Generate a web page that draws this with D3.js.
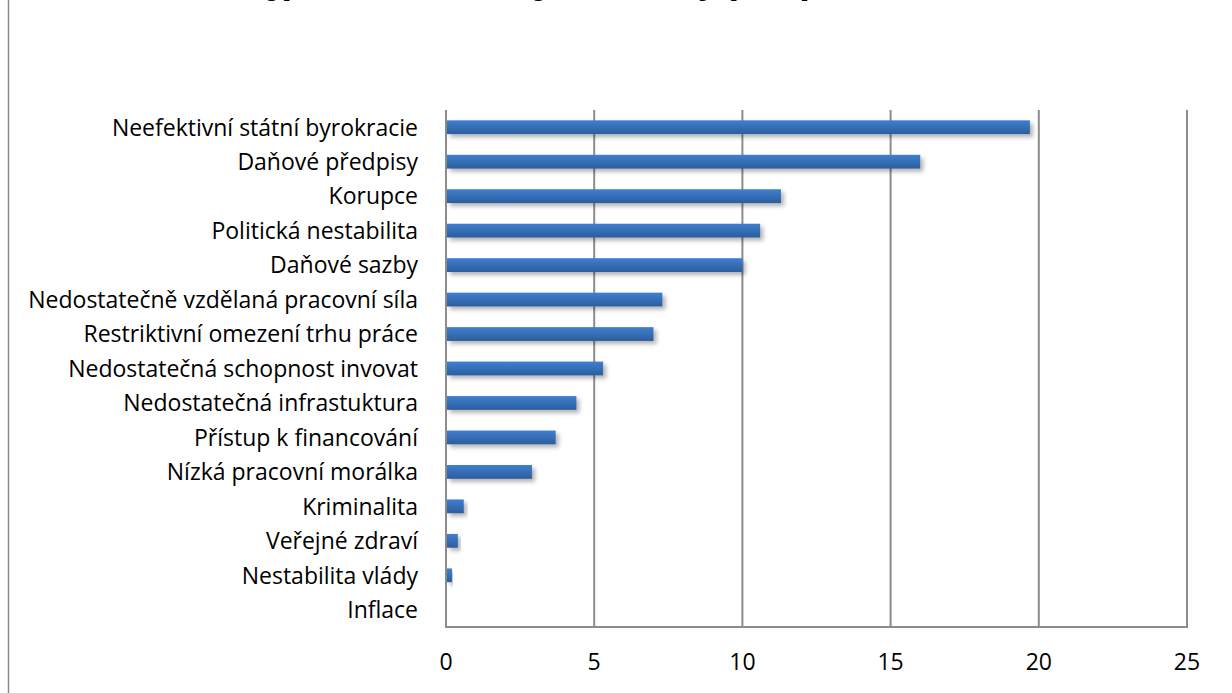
<!DOCTYPE html>
<html>
<head>
<meta charset="utf-8">
<script src="https://cdn.jsdelivr.net/npm/d3@7"></script>
<style>
  body { margin: 0; background: #fff; }
  svg { display: block; font-family: "Open Sans", Lato, sans-serif; }
</style>
</head>
<body>
<svg width="1232" height="693"></svg>
<script>
var categories = [
  "Neefektivní státní byrokracie",
  "Daňové předpisy",
  "Korupce",
  "Politická nestabilita",
  "Daňové sazby",
  "Nedostatečně vzdělaná pracovní síla",
  "Restriktivní omezení trhu práce",
  "Nedostatečná schopnost invovat",
  "Nedostatečná infrastuktura",
  "Přístup k financování",
  "Nízká pracovní morálka",
  "Kriminalita",
  "Veřejné zdraví",
  "Nestabilita vlády",
  "Inflace"
];
var values = [19.7, 16.0, 11.3, 10.6, 10.0, 7.3, 7.0, 5.3, 4.4, 3.7, 2.9, 0.6, 0.4, 0.2, 0];
var xTicks = [0, 5, 10, 15, 20, 25];
var title = "Nejproblematičtější faktory pro podnikání";

var svg = d3.select("svg"),
    width = +svg.attr("width"),
    height = +svg.attr("height");

var plotLeft = 446, plotRight = 1187, plotTop = 110, plotBottom = 627;

var x = d3.scaleLinear().domain([0, 25]).range([plotLeft, plotRight]);
var y = d3.scaleBand().domain(categories).range([plotTop, plotBottom]).paddingInner(0.6).paddingOuter(0.3);

var defs = svg.append("defs");
var grad = defs.append("linearGradient")
    .attr("id", "barGrad")
    .attr("x1", 0).attr("y1", 0).attr("x2", 0).attr("y2", 1);
grad.append("stop").attr("offset", "0%").attr("stop-color", "#3f7fd0");
grad.append("stop").attr("offset", "100%").attr("stop-color", "#2c5d9c");

var shadow = defs.append("filter").attr("id", "shadow")
    .attr("x", "-10%").attr("y", "-50%").attr("width", "130%").attr("height", "250%");
shadow.append("feDropShadow")
    .attr("dx", 3).attr("dy", 3).attr("stdDeviation", 2.2)
    .attr("flood-color", "#000").attr("flood-opacity", 0.3);

// outer frame, only left edge is in view
svg.append("line")
    .attr("x1", 8.5).attr("x2", 8.5).attr("y1", 0).attr("y2", height)
    .attr("stroke", "#8a8a8a").attr("stroke-width", 1.5);

// title, mostly cut off at the top
svg.append("text")
    .attr("x", 600).attr("y", -8)
    .attr("text-anchor", "middle")
    .attr("font-size", 36).attr("font-weight", "bold")
    .text(title);

// gridlines
svg.append("g")
  .selectAll("line")
  .data(xTicks)
  .enter().append("line")
    .attr("x1", function(d) { return x(d); })
    .attr("x2", function(d) { return x(d); })
    .attr("y1", plotTop).attr("y2", plotBottom)
    .attr("stroke", "#8c8c8c").attr("stroke-width", 2);

// bottom axis line
svg.append("line")
    .attr("x1", x(0) - 1).attr("x2", x(25) + 1)
    .attr("y1", plotBottom).attr("y2", plotBottom)
    .attr("stroke", "#8c8c8c").attr("stroke-width", 2);

// bars
svg.append("g")
  .selectAll("rect")
  .data(values)
  .enter().append("rect")
    .attr("x", x(0) + 1)
    .attr("y", function(d, i) { return y(categories[i]); })
    .attr("width", function(d) { return Math.max(0, x(d) - x(0) - 1); })
    .attr("height", y.bandwidth())
    .attr("fill", "url(#barGrad)")
    .attr("filter", "url(#shadow)");

// category labels
svg.append("g")
  .selectAll("text")
  .data(categories)
  .enter().append("text")
    .attr("x", 418)
    .attr("y", function(d) { return y(d) + y.bandwidth() / 2; })
    .attr("dy", "0.36em")
    .attr("text-anchor", "end")
    .attr("font-size", 23)
    .attr("fill", "#000")
    .text(function(d) { return d; });

// x tick labels
svg.append("g")
  .selectAll("text")
  .data(xTicks)
  .enter().append("text")
    .attr("x", function(d) { return x(d); })
    .attr("y", 662)
    .attr("dy", "0.36em")
    .attr("text-anchor", "middle")
    .attr("font-size", 23)
    .attr("fill", "#000")
    .text(function(d) { return d; });
</script>
</body>
</html>
